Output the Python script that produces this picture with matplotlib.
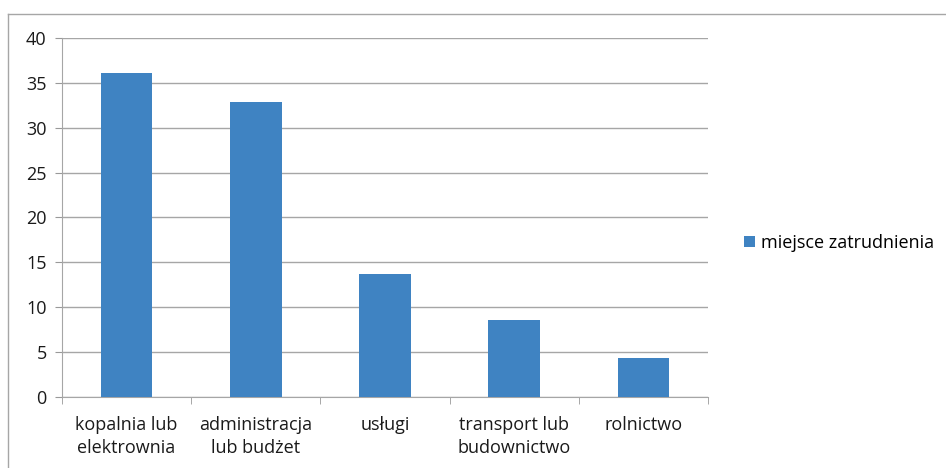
import matplotlib.pyplot as plt
from matplotlib.lines import Line2D
import numpy as np

categories = ["kopalnia lub\nelektrownia", "administracja\nlub budżet", "usługi",
              "transport lub\nbudownictwo", "rolnictwo"]
values = [36.1, 32.9, 13.7, 8.6, 4.4]
series_name = "miejsce zatrudnienia"

plt.rcParams['font.family'] = ['Open Sans', 'DejaVu Sans']

fig = plt.figure(figsize=(9.46, 4.68), dpi=100)
ax = fig.add_axes([62/946, 1 - 397/468, (708-62)/946, (397-38)/468])

x = np.arange(len(categories))
ax.bar(x, values, width=0.4, color='#3F83C2', label=series_name, zorder=3)

ax.set_ylim(0, 40)
ax.set_yticks(np.arange(0, 41, 5))
ax.set_xlim(-0.5, len(categories) - 0.5)
ax.set_xticks(x)
ax.set_xticklabels(categories, fontsize=13, color='#1a1a1a', linespacing=1.35)
ax.set_xticks(np.arange(-0.5, len(categories), 1), minor=True)
ax.tick_params(axis='x', which='major', length=0, pad=14)
ax.tick_params(axis='x', which='minor', length=5, color='#999999')
ax.tick_params(axis='y', length=5, color='#999999', labelsize=13, labelcolor='#1a1a1a', pad=6)

ax.grid(axis='y', color='#A6A6A6', linewidth=1, zorder=0)
for s in ['top', 'right']:
    ax.spines[s].set_visible(False)
ax.spines['left'].set_color('#A6A6A6')
ax.spines['bottom'].set_color('#A6A6A6')

ax.legend(loc='center left', bbox_to_anchor=(728/946, 1 - 243/468), bbox_transform=fig.transFigure,
          frameon=False, fontsize=13, handlelength=0.6, handleheight=0.6, handletextpad=0.35)

# outer chart frame
fig.add_artist(Line2D([8/946, 8/946], [0, 1 - 14/468], color='#A6A6A6', linewidth=1))
fig.add_artist(Line2D([8/946, 1], [1 - 14/468, 1 - 14/468], color='#A6A6A6', linewidth=1))

fig.savefig('out.png', dpi=100)
